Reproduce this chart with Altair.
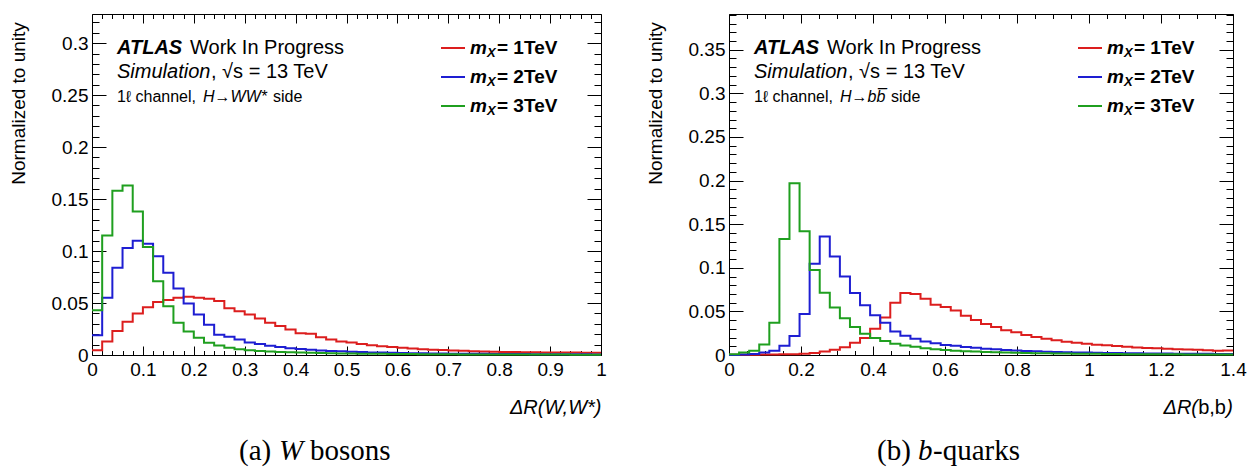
import altair as alt
import pandas as pd

FONT = "Liberation Sans"
SERIF = "Liberation Serif"

# ---------------- data (normalised histograms, 50 bins each) ----------------
masses = ["1TeV", "2TeV", "3TeV"]
colors = ["#dc1e1e", "#1e1ed2", "#1f9f1f"]

# Delta R(W, W*) on [0, 1]
ww_1tev = [0.0045, 0.013, 0.023, 0.032, 0.040, 0.046, 0.051, 0.053, 0.055, 0.056,
           0.055, 0.054, 0.052, 0.045, 0.042, 0.039, 0.035, 0.031, 0.028, 0.0245,
           0.021, 0.0205, 0.017, 0.015, 0.013, 0.012, 0.0105, 0.0093, 0.0085, 0.0076,
           0.0069, 0.0063, 0.0055, 0.0051, 0.0048, 0.0044, 0.0041, 0.0037, 0.0034, 0.0031,
           0.0030, 0.0028, 0.0027, 0.0026, 0.0025, 0.0024, 0.0024, 0.0023, 0.0022, 0.0022]
ww_2tev = [0.019, 0.055, 0.084, 0.103, 0.110, 0.107, 0.095, 0.079, 0.064, 0.0495,
           0.039, 0.029, 0.0195, 0.0175, 0.015, 0.012, 0.0105, 0.009, 0.0078, 0.0066,
           0.0057, 0.005, 0.0044, 0.0039, 0.0035, 0.0031, 0.0028, 0.0025, 0.0023, 0.0021,
           0.0019, 0.0017, 0.0016, 0.0015, 0.0014, 0.0013, 0.0012, 0.0011, 0.0011, 0.0010,
           0.0010, 0.0009, 0.0009, 0.0008, 0.0008, 0.0008, 0.0007, 0.0007, 0.0007, 0.0006]
ww_3tev = [0.043, 0.115, 0.158, 0.163, 0.138, 0.104, 0.071, 0.047, 0.031, 0.0227,
           0.0166, 0.0118, 0.0092, 0.0070, 0.0055, 0.0045, 0.0038, 0.0033, 0.0029, 0.0026,
           0.0023, 0.0021, 0.0019, 0.0017, 0.0015, 0.0014, 0.0013, 0.0012, 0.0011, 0.0010,
           0.0009, 0.0009, 0.0008, 0.0008, 0.0007, 0.0007, 0.0006, 0.0006, 0.0006, 0.0005,
           0.0005, 0.0005, 0.0005, 0.0004, 0.0004, 0.0004, 0.0004, 0.0003, 0.0003, 0.0003]

# Delta R(b, b) on [0, 1.4]
bb_1tev = [0.0002, 0.0003, 0.0004, 0.0005, 0.0007, 0.0008, 0.0010, 0.0015, 0.0023, 0.0040,
           0.0060, 0.0090, 0.0140, 0.0194, 0.0300, 0.0430, 0.0600, 0.0710, 0.0700, 0.0645,
           0.0575, 0.0550, 0.051, 0.045, 0.040, 0.0355, 0.032, 0.0285, 0.026, 0.023,
           0.0205, 0.0185, 0.0168, 0.0153, 0.014, 0.0128, 0.0118, 0.0112, 0.0102, 0.0095,
           0.0087, 0.0081, 0.0076, 0.0072, 0.0066, 0.0064, 0.0059, 0.0055, 0.0049, 0.0052]
bb_2tev = [0.0001, 0.0005, 0.0012, 0.003, 0.005, 0.0105, 0.0217, 0.047, 0.1047, 0.136,
           0.113, 0.090, 0.071, 0.057, 0.0457, 0.037, 0.027, 0.022, 0.0186, 0.0155,
           0.0136, 0.0116, 0.0105, 0.0092, 0.0082, 0.0072, 0.0065, 0.0058, 0.0052, 0.0047,
           0.0042, 0.0038, 0.0035, 0.0032, 0.0030, 0.0028, 0.0026, 0.0024, 0.0022, 0.0020,
           0.0019, 0.0018, 0.0017, 0.0016, 0.0015, 0.0014, 0.0013, 0.0013, 0.0012, 0.0012]
bb_3tev = [0.0008, 0.003, 0.005, 0.012, 0.037, 0.133, 0.197, 0.142, 0.0975, 0.0715,
           0.0545, 0.042, 0.032, 0.0245, 0.0195, 0.016, 0.013, 0.011, 0.0095, 0.0078,
           0.0066, 0.0056, 0.0050, 0.0044, 0.0039, 0.0035, 0.0031, 0.0028, 0.0025, 0.0023,
           0.0021, 0.0019, 0.0017, 0.0016, 0.0015, 0.0014, 0.0013, 0.0012, 0.0011, 0.0010,
           0.0010, 0.0009, 0.0009, 0.0008, 0.0008, 0.0007, 0.0007, 0.0006, 0.0006, 0.0005]

# axis tick values
x_major_w = [0, 0.1, 0.2, 0.3, 0.4, 0.5, 0.6, 0.7, 0.8, 0.9, 1]
x_minor_w = [round(0.02 * i, 4) for i in range(51)]
y_major_w = [0, 0.05, 0.1, 0.15, 0.2, 0.25, 0.3]
y_minor_w = [round(0.01 * i, 4) for i in range(33)]

x_major_b = [0, 0.2, 0.4, 0.6, 0.8, 1, 1.2, 1.4]
x_minor_b = [round(0.05 * i, 4) for i in range(29)]
y_major_b = [0, 0.05, 0.1, 0.15, 0.2, 0.25, 0.3, 0.35]
y_minor_b = [round(0.01 * i, 4) for i in range(40)]


def hist_df(values, xmax):
    w = xmax / len(values)
    xs = [round(i * w, 6) for i in range(len(values))] + [xmax]
    ys = list(values) + [values[-1]]
    return pd.DataFrame({"x": xs, "y": ys})


def txt(s, x, y, size=19, style="normal", weight="normal", font=FONT, align="left"):
    return alt.Chart(pd.DataFrame({"t": [s]})).mark_text(
        align=align, baseline="middle", font=font, fontSize=size,
        fontStyle=style, fontWeight=weight, color="black"
    ).encode(x=alt.value(x), y=alt.value(y), text="t:N")


def panel(series, xmax, ymax, W, H, x_major, x_minor, y_major, y_minor,
          xtest, xtitle, decay, cap):
    xs = alt.Scale(domain=[0, xmax], nice=False, zero=False)
    ys = alt.Scale(domain=[0, ymax], nice=False, zero=False)
    x_lab = alt.Axis(orient="bottom", values=x_major, format="~g", ticks=False, tickSize=0,
                     domain=False, grid=False, labelFlush=False, labelOverlap=False,
                     labelPadding=5, title=xtitle, titleAnchor="end", titleFontStyle="italic",
                     titleFontWeight="normal", titleFontSize=20, titlePadding=18)
    y_lab = alt.Axis(orient="left", values=y_major, format="~g", ticks=False, tickSize=0,
                     domain=False, grid=False, labelFlush=False, labelOverlap=False,
                     labelPadding=4, title="Normalized to unity", titleFontWeight="normal",
                     titleFontSize=19, titlePadding=23, titleY=89)
    layers = []
    for i, (vals, col) in enumerate(zip(series, colors)):
        layers.append(alt.Chart(hist_df(vals, xmax)).mark_line(
            interpolate="step-after", color=col, strokeWidth=2).encode(
            x=alt.X("x:Q", scale=xs, axis=x_lab if i == 0 else None),
            y=alt.Y("y:Q", scale=ys, axis=y_lab if i == 0 else None)))
    # inward ticks on all four sides
    xt = {"condition": {"test": xtest, "value": 9}, "value": 4.5}
    yt = {"condition": {"test": "abs(datum.value*20 - round(datum.value*20)) < 0.001", "value": 14},
          "value": 7}
    for xo, yo in (("top", "right"), ("bottom", "left")):
        layers.append(alt.Chart(hist_df(series[0], xmax)).mark_line(strokeOpacity=0).encode(
            x=alt.X("x:Q", scale=xs, axis=alt.Axis(orient=xo, offset=-H, values=x_minor,
                    tickSize=xt, labels=False, domain=False, grid=False, title=None)),
            y=alt.Y("y:Q", scale=ys, axis=alt.Axis(orient=yo, offset=-W, values=y_minor,
                    tickSize=yt, labels=False, domain=False, grid=False, title=None))))
    # ATLAS label block
    layers += [
        txt("ATLAS", 25, 34, size=20, style="italic", weight="bold"),
        txt("Work In Progress", 98, 34, size=20),
        txt("Simulation", 25, 58, size=20, style="italic"),
        txt(", \u221as = 13 TeV", 119, 58, size=20),
        txt("1\u2113 channel,", 25, 83, size=16),
        txt(decay[0], 111, 83, size=16, style="italic"),
        txt("side", decay[1], 83, size=16),
    ]
    # legend
    for k, (m, col) in enumerate(zip(masses, colors)):
        yy = 34 + 29 * k
        layers.append(alt.Chart(pd.DataFrame({"a": [0]})).mark_rule(color=col, strokeWidth=2).encode(
            x=alt.value(349), x2=alt.value(373), y=alt.value(yy)))
        layers.append(txt("m", 378, yy, style="italic", weight="bold"))
        layers.append(txt("X", 395, yy + 5, size=13, style="italic", weight="bold"))
        layers.append(txt("= " + m, 405, yy, weight="bold"))
    # x title split into styled pieces when needed
    if xtitle is None:
        layers += [
            txt(")", W, H + 53, size=20, style="italic", align="right"),
            txt("b,b", W - 7, H + 53, size=20, align="right"),
            txt("\u0394R(", W - 35, H + 53, size=20, style="italic", align="right"),
        ]
    # caption
    layers += [
        txt(cap[0], cap[3], 437, size=29, font=SERIF),
        txt(cap[1], cap[4], 437, size=29, font=SERIF, style="italic"),
        txt(cap[2], cap[5], 437, size=29, font=SERIF),
    ]
    return alt.layer(*layers).resolve_axis(x="independent", y="independent").properties(
        width=W, height=H)


left = panel([ww_1tev, ww_2tev, ww_3tev], 1.0, 0.328, 509, 341,
             x_major_w, x_minor_w, y_major_w, y_minor_w,
             "abs(datum.value*10 - round(datum.value*10)) < 0.001",
             "\u0394R(W,W*)", ("H\u2192WW*", 181), ("(a)", "W", "bosons", 147, 187, 218))
right = panel([bb_1tev, bb_2tev, bb_3tev], 1.4, 0.391, 504, 341,
              x_major_b, x_minor_b, y_major_b, y_minor_b,
              "abs(datum.value*5 - round(datum.value*5)) < 0.001",
              None, ("H\u2192bb\u0305", 162), ("(b)", "b", "-quarks", 148, 189, 204))

chart = alt.hconcat(left, right, spacing=38).properties(
    padding={"left": 0, "top": 5, "right": 0, "bottom": 0}
).configure_view(stroke="black", strokeWidth=1).configure_axis(
    labelFont=FONT, titleFont=FONT, labelFontSize=19, labelColor="black",
    titleColor="black", tickColor="black", tickWidth=1, domainColor="black"
)

chart.save("out.html", embed_options={"renderer": "svg", "actions": False})
